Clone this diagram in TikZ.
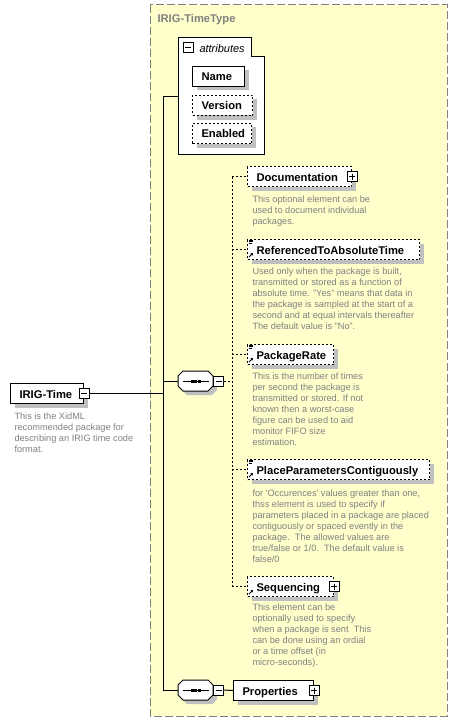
\documentclass[tikz,border=0pt]{standalone}
\usepackage{fontspec}
\setmainfont{Liberation Sans}
\usetikzlibrary{shadows,arrows.meta}
\definecolor{bgyellow}{RGB}{255,255,204}
\definecolor{txtgray}{RGB}{128,128,128}
\definecolor{shgray}{RGB}{192,192,192}
\newcommand{\lblfont}{\fontsize{11.2bp}{13bp}\selectfont\bfseries}
\newcommand{\dscfont}{\fontsize{9.2bp}{11bp}\selectfont}
\newcommand{\seqoct}[3]{%
\begin{scope}[shift={(#2,#3)}]
 \fill[shgray] (-13.5,-1) -- (-8.5,-6) -- (16.5,-6) -- (21.5,-1) -- (21.5,9) -- (16.5,14) -- (-8.5,14) -- (-13.5,9) -- cycle;
 \draw[fill=white] (-17.5,-5) -- (-12.5,-10) -- (12.5,-10) -- (17.5,-5) -- (17.5,5) -- (12.5,10) -- (-12.5,10) -- (-17.5,5) -- cycle;
 \draw (-13,0) -- (13,0);
 \fill (-5,-1.5) rectangle ++(3,3);
 \fill (-1.5,-1.5) rectangle ++(3,3);
 \fill (2,-1.5) rectangle ++(3,3);
 \node[inner sep=0, minimum width=35bp, minimum height=20bp] (#1) at (0,0) {};
\end{scope}}
\newcommand{\typeicon}[2]{% left, top
 \draw[line width=0.7bp] ({#1+2},{#2+1}) -- ++(4,0) ({#1+2},{#2+2.5}) -- ++(4,0) ({#1+2},{#2+4}) -- ++(3,0);}
\newcommand{\refarrow}[2]{% left, top
 \draw[line width=1bp,-{Stealth[length=2.5bp,width=3bp]}] ({#1+2},{#2+18}) -- ({#1+6},{#2+14});}
\begin{document}
\begin{tikzpicture}[x=1bp,y=-1bp,line width=1bp,
  elem/.style={draw, fill=white, anchor=north west, inner xsep=9bp, inner ysep=3bp,
    text height=11.5bp, text depth=2.5bp, align=left, font=\lblfont,
    drop shadow={shadow xshift=4bp, shadow yshift=-4bp, opacity=1, fill=shgray}},
  optelem/.style={elem, dash pattern=on 2bp off 2bp},
  desc/.style={anchor=base west, inner sep=0, text=txtgray, font=\dscfont},
  conn/.style={draw, line width=1bp},
  dconn/.style={draw, line width=1bp, dash pattern=on 2bp off 2bp},
  minusbox/.style={draw, fill=white, minimum size=10bp, inner sep=0,
    path picture={\draw[line width=1bp] ([xshift=2bp]path picture bounding box.west) -- ([xshift=-2bp]path picture bounding box.east);}},
  plusbox/.style={minusbox,
    path picture={\draw[line width=1bp] ([xshift=2bp]path picture bounding box.west) -- ([xshift=-2bp]path picture bounding box.east)
      ([yshift=-2bp]path picture bounding box.north) -- ([yshift=2bp]path picture bounding box.south);}}
]
\useasboundingbox (0,0) rectangle (458,722);
% complex type background
\draw[fill=bgyellow, draw=txtgray, dash pattern=on 8bp off 3bp] (150,5) rectangle (447,716);
\node[anchor=base west, inner sep=0, font=\lblfont, text=txtgray] (title) at (157,23) {IRIG-TimeType};

% attributes group
\draw[fill=white] (178,38) -- (251,38) -- (251,57) -- (264,57) -- (264,154) -- (178,154) -- cycle;
\node[minusbox] (attrm) at (188,48) {};
\node[anchor=base west, inner sep=0, font=\fontsize{11bp}{13bp}\selectfont\itshape] (attrlbl) at (199,52.3) {attributes};
\coordinate (attrW) at (178,97);
\node[elem, text width=34bp] (name) at (192,66) {Name};
\node[optelem, text width=42bp] (version) at (192,95) {Version};
\node[optelem, text width=41bp] (enabled) at (192,123) {Enabled};

% root element
\node[elem, text width=55bp] (irig) at (10,383) {IRIG-Time};
\node[minusbox] (irigm) at (irig.east) {};
\node[desc] (irigd) at (14,419) {\parbox[t]{140bp}{\raggedright This is the XidML\\recommended package for\\describing an IRIG time code\\format.}};

% sequences
\seqoct{oct1}{195.5}{381}
\node[minusbox] (oct1m) at ([xshift=5bp]oct1.east) {};
\seqoct{oct2}{195.5}{690}
\node[minusbox] (oct2m) at ([xshift=5bp]oct2.east) {};

% child elements
\node[optelem, text width=86bp] (doc) at (247,166) {Documentation};
\node[plusbox] (docp) at (doc.east) {};
\node[desc] (docd) at (252,202.5) {\parbox[t]{200bp}{\raggedright This optional element can be\\used to document individual\\packages.}};

\node[optelem, text width=154bp] (rtat) at (247,239) {ReferencedToAbsoluteTime};
\typeicon{247}{239}\refarrow{247}{239}
\node[desc] (rtatd) at (252,274) {\parbox[t]{200bp}{\raggedright Used only when the package is built,\\transmitted or stored as a function of\\absolute time. "Yes" means that data in\\the package is sampled at the start of a\\second and at equal intervals thereafter\\The default value is "No".}};

\node[optelem, text width=68bp] (prate) at (247,344) {PackageRate};
\typeicon{247}{344}\refarrow{247}{344}
\node[desc] (prated) at (252,379.5) {\parbox[t]{200bp}{\raggedright This is the number of times\\per second the package is\\transmitted or stored. If not\\known then a worst-case\\figure can be used to aid\\monitor FIFO size\\estimation.}};

\node[optelem, text width=164bp] (ppc) at (247,459) {PlaceParametersContiguously};
\typeicon{247}{459}\refarrow{247}{459}
\node[desc] (ppcd) at (252,496.5) {\parbox[t]{200bp}{\raggedright for \textquotesingle Occurences\textquotesingle\ values greater than one,\\thss element is used to specify if\\parameters placed in a package are placed\\contiguously or spaced evently in the\\package.\ \ The allowed values are\\true/false or 1/0.\ \ The default value is\\false/0}};

\node[optelem, text width=68bp] (seq) at (247,576) {Sequencing};
\refarrow{247}{576}
\node[plusbox] (seqp) at (seq.east) {};
\node[desc] (seqd) at (252,610.5) {\parbox[t]{200bp}{\raggedright This element can be\\optionally used to specify\\when a package is sent\ \ This\\can be done using an ordial\\or a time offset (in\\micro-seconds).}};

\node[elem, text width=62bp] (prop) at (233,680) {Properties};
\node[plusbox] (propp) at (prop.east) {};

% connectors
\coordinate (trunk) at (163,97);
\coordinate (cx) at (232,0);
\draw[conn] (attrW) -- (trunk) -- (trunk |- oct2.west) -- (oct2.west);
\draw[conn] (irigm.east) -- (irigm.east -| trunk);
\draw[conn] (trunk |- oct1.west) -- (oct1.west);
\draw[dconn] (oct1m.east) -- (oct1m.east -| cx);
\draw[dconn] (cx |- doc.west) -- (cx |- seq.west);
\foreach \n in {doc,rtat,prate,ppc,seq} {\draw[dconn] (cx |- \n.west) -- (\n.west);}
\draw[conn] (oct2m.east) -- (prop.west);
\end{tikzpicture}
\end{document}
